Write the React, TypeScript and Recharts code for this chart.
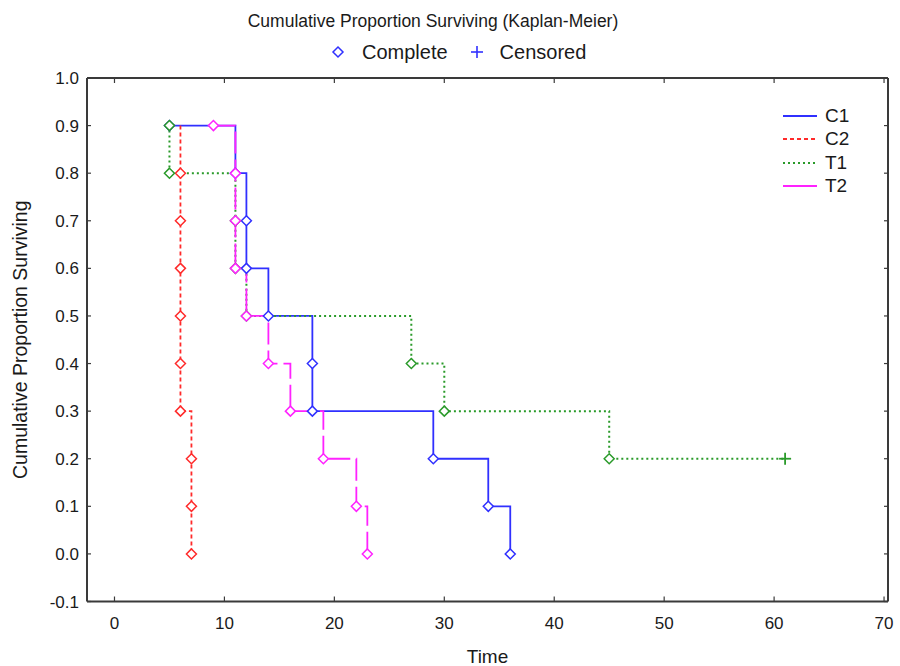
import React from 'react';
import { LineChart, Line, XAxis, YAxis } from 'recharts';

const seriesNames = ['C1', 'C2', 'T1', 'T2'];
const seriesColors = ['#3030ff', '#ff2a2a', '#2a9a2a', '#ff22ff'];
const seriesDash = ['', '4 3', '2 3', '22 6'];

const c1Time = [5, 11, 12, 12, 14, 18, 18, 29, 34, 36];
const c1Surv = [0.9, 0.8, 0.7, 0.6, 0.5, 0.4, 0.3, 0.2, 0.1, 0.0];
const c1Mark = [1, 1, 1, 1, 1, 1, 1, 1, 1, 1];

const c2Time = [6, 6, 6, 6, 6, 6, 6, 7, 7, 7];
const c2Surv = [0.9, 0.8, 0.7, 0.6, 0.5, 0.4, 0.3, 0.2, 0.1, 0.0];
const c2Mark = [0, 1, 1, 1, 1, 1, 1, 1, 1, 1];

// 1 = complete (diamond), 2 = censored (plus), 0 = no marker
const t1Time = [5, 5, 11, 11, 12, 27, 30, 45, 61];
const t1Surv = [0.9, 0.8, 0.7, 0.6, 0.5, 0.4, 0.3, 0.2, 0.2];
const t1Mark = [1, 1, 1, 1, 1, 1, 1, 1, 2];

const t2Time = [9, 11, 11, 11, 12, 14, 16, 19, 22, 23];
const t2Surv = [0.9, 0.8, 0.7, 0.6, 0.5, 0.4, 0.3, 0.2, 0.1, 0.0];
const t2Mark = [1, 1, 1, 1, 1, 1, 1, 1, 1, 1];

const xTicks = [0, 10, 20, 30, 40, 50, 60, 70];
const yTicks = [-0.1, 0.0, 0.1, 0.2, 0.3, 0.4, 0.5, 0.6, 0.7, 0.8, 0.9, 1.0];

const titleText = 'Cumulative Proportion Surviving (Kaplan-Meier)';
const completeLabel = 'Complete';
const censoredLabel = 'Censored';
const xLabel = 'Time';
const yLabel = 'Cumulative Proportion Surviving';

const build = (t: number[], s: number[], m: number[]) =>
  t.map((v, i) => ({ t: v, s: s[i], mark: m[i] }));

const seriesData = [
  build(c1Time, c1Surv, c1Mark),
  build(c2Time, c2Surv, c2Mark),
  build(t1Time, t1Surv, t1Mark),
  build(t2Time, t2Surv, t2Mark),
];

const FONT = '"Liberation Sans", Arial, sans-serif';
const AXIS_COLOR = '#3a3a3a';
const TEXT_COLOR = '#1a1a1a';
const X_DOMAIN: [number, number] = [-2.5, 70.36];
const Y_DOMAIN: [number, number] = [-0.1, 1.0];

const makeDot = (color: string) => (props: any) => {
  const { cx, cy, payload, index } = props;
  if (cx == null || cy == null || !payload || payload.mark === 0) return <g key={`e-${index}`} />;
  if (payload.mark === 2) {
    return (
      <g key={`d-${index}`}>
        <line x1={cx - 6} y1={cy} x2={cx + 6} y2={cy} stroke={color} strokeWidth={1.8} />
        <line x1={cx} y1={cy - 6} x2={cx} y2={cy + 6} stroke={color} strokeWidth={1.8} />
      </g>
    );
  }
  const r = 5;
  return (
    <polygon
      key={`d-${index}`}
      points={`${cx},${cy - r} ${cx + r},${cy} ${cx},${cy + r} ${cx - r},${cy}`}
      fill="#fff"
      stroke={color}
      strokeWidth={1.5}
    />
  );
};

export default function App() {
  return (
    <div style={{ position: 'absolute', left: 0, top: 0, width: 900, height: 666, background: '#fff' }}>
      <div
        style={{
          position: 'absolute',
          left: 0,
          top: 10,
          width: 866,
          textAlign: 'center',
          fontFamily: FONT,
          fontSize: 17.5,
          color: TEXT_COLOR,
          lineHeight: '22px',
        }}
      >
        {titleText}
      </div>
      <div
        style={{
          position: 'absolute',
          left: 331,
          top: 40,
          display: 'flex',
          alignItems: 'center',
          fontFamily: FONT,
          fontSize: 20,
          color: TEXT_COLOR,
          lineHeight: '24px',
        }}
      >
        <svg width={14} height={14} style={{ marginRight: 17 }}>
          <polygon points="7,2 12,7 7,12 2,7" fill="#fff" stroke="#3030ff" strokeWidth={1.5} />
        </svg>
        <span>{completeLabel}</span>
        <svg width={16} height={16} style={{ marginLeft: 21, marginRight: 15 }}>
          <line x1={2} y1={8} x2={14} y2={8} stroke="#3030ff" strokeWidth={1.6} />
          <line x1={8} y1={2} x2={8} y2={14} stroke="#3030ff" strokeWidth={1.6} />
        </svg>
        <span>{censoredLabel}</span>
      </div>
      <div
        style={{
          position: 'absolute',
          left: 783,
          top: 104,
          fontFamily: FONT,
          fontSize: 19,
          color: TEXT_COLOR,
          zIndex: 2,
        }}
      >
        {seriesNames.map((n, i) => (
          <div key={n} style={{ display: 'flex', alignItems: 'center', height: 23.5 }}>
            <svg width={34} height={10} style={{ marginRight: 8 }}>
              <line
                x1={0}
                y1={5}
                x2={34}
                y2={5}
                stroke={seriesColors[i]}
                strokeWidth={i === 2 ? 2 : 1.8}
                strokeDasharray={i === 3 ? undefined : seriesDash[i] || undefined}
              />
            </svg>
            <span>{n}</span>
          </div>
        ))}
      </div>
      <LineChart
        width={900}
        height={666}
        margin={{ top: 77, right: 11, bottom: 0, left: 0 }}
        style={{ position: 'absolute', left: 0, top: 0 }}
      >
        <XAxis
          xAxisId="b"
          dataKey="t"
          type="number"
          domain={X_DOMAIN}
          allowDataOverflow
          ticks={xTicks}
          interval={0}
          height={64.5}
          tickSize={-5}
          tickMargin={20}
          axisLine={{ stroke: AXIS_COLOR, strokeWidth: 2 }}
          tickLine={{ stroke: AXIS_COLOR, strokeWidth: 1.2 }}
          tick={{ fontFamily: FONT, fontSize: 17, fill: TEXT_COLOR }}
          label={{
            value: xLabel,
            position: 'insideBottom',
            offset: 3,
            style: { fontFamily: FONT, fontSize: 19, fill: TEXT_COLOR },
          }}
        />
        <XAxis
          xAxisId="t"
          dataKey="t"
          orientation="top"
          type="number"
          domain={X_DOMAIN}
          allowDataOverflow
          ticks={xTicks}
          interval={0}
          height={1}
          tickSize={-5}
          tickFormatter={() => ''}
          axisLine={{ stroke: AXIS_COLOR, strokeWidth: 2 }}
          tickLine={{ stroke: AXIS_COLOR, strokeWidth: 1.2 }}
        />
        <YAxis
          yAxisId="l"
          type="number"
          domain={Y_DOMAIN}
          allowDataOverflow
          ticks={yTicks}
          interval={0}
          width={87}
          tickSize={-4}
          tickMargin={12}
          tickFormatter={(v: number) => v.toFixed(1)}
          axisLine={{ stroke: AXIS_COLOR, strokeWidth: 2 }}
          tickLine={{ stroke: AXIS_COLOR, strokeWidth: 1.2 }}
          tick={{ fontFamily: FONT, fontSize: 17, fill: TEXT_COLOR }}
          label={{
            value: yLabel,
            angle: -90,
            position: 'insideLeft',
            offset: 20,
            style: { textAnchor: 'middle', fontFamily: FONT, fontSize: 19.5, fill: TEXT_COLOR },
          }}
        />
        <YAxis
          yAxisId="r"
          orientation="right"
          type="number"
          domain={Y_DOMAIN}
          allowDataOverflow
          ticks={yTicks}
          interval={0}
          width={1}
          tickSize={-4}
          tickFormatter={() => ''}
          axisLine={{ stroke: AXIS_COLOR, strokeWidth: 2 }}
          tickLine={{ stroke: AXIS_COLOR, strokeWidth: 1.2 }}
        />
        <Line
          xAxisId="t"
          yAxisId="r"
          data={seriesData[0]}
          dataKey="s"
          stroke="none"
          dot={false}
          activeDot={false}
          legendType="none"
          isAnimationActive={false}
        />
        {seriesNames.map((n, i) => (
          <Line
            key={n}
            name={n}
            xAxisId="b"
            yAxisId="l"
            data={seriesData[i]}
            dataKey="s"
            type="stepAfter"
            stroke={seriesColors[i]}
            strokeWidth={i === 2 ? 2 : 1.8}
            strokeDasharray={seriesDash[i] || undefined}
            dot={makeDot(seriesColors[i])}
            activeDot={false}
            isAnimationActive={false}
          />
        ))}
      </LineChart>
    </div>
  );
}
